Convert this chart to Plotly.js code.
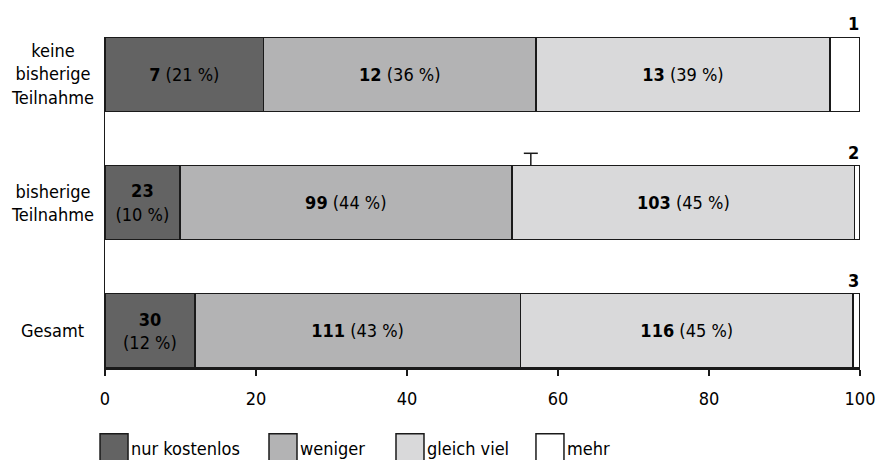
<!DOCTYPE html>
<html>
<head>
<meta charset="utf-8">
<script src="https://cdn.plot.ly/plotly-3.0.1.min.js"></script>
<style>html,body{margin:0;padding:0;background:#fff;}#chart{width:878px;height:460px;}</style>
</head>
<body>
<div id="chart"></div>
<script>
// ---- data ----
const categories = ["keine<br>bisherige<br>Teilnahme", "bisherige<br>Teilnahme", "Gesamt"];
const seriesNames = ["nur kostenlos", "weniger", "gleich viel", "mehr"];
// counts shown in labels
const countNur = [7, 23, 30];
const countWeniger = [12, 99, 111];
const countGleich = [13, 103, 116];
const countMehr = [1, 2, 3];
// percentages shown in labels
const pctNur = [21, 10, 12];
const pctWeniger = [36, 44, 43];
const pctGleich = [39, 45, 45];
// bar lengths (percent of row)
const lenNur = [21.0, 9.9, 11.9];
const lenWeniger = [36.1, 44.0, 43.1];
const lenGleich = [38.9, 45.4, 44.1];
const lenMehr = [4.0, 0.7, 0.9];
const xTicks = [0, 20, 40, 60, 80, 100];

const FONT = "'Liberation Sans Narrow', 'DejaVu Sans Condensed', 'Liberation Sans', sans-serif";
const FS = 18;
const colors = ["#636363", "#b3b3b4", "#d9d9da", "#ffffff"];
const lineCol = "#1a1a1a";
const legendIds = ["legend", "legend2", "legend3", "legend4"];
const legendX = [-0.0185, 0.2053, 0.3735, 0.5589];

function labels(counts, pcts, lens) {
  return counts.map((c, i) => lens[i] < 15 ? `<b>${c}</b><br>(${pcts[i]} %)` : `<b>${c}</b> (${pcts[i]} %)`);
}

const yIdx = categories.map((_, i) => i);

function barTrace(k, lens, text) {
  return {
    type: "bar", orientation: "h", name: seriesNames[k], legend: legendIds[k],
    y: yIdx, x: lens,
    text: text, textposition: text ? "inside" : "none",
    insidetextanchor: "middle", textangle: 0,
    insidetextfont: {family: FONT, size: FS, color: "#000"},
    constraintext: "none",
    marker: {color: colors[k], line: {color: lineCol, width: 1.5}},
    hoverinfo: "none"
  };
}

const traces = [
  barTrace(0, lenNur, labels(countNur, pctNur, lenNur)),
  barTrace(1, lenWeniger, labels(countWeniger, pctWeniger, lenWeniger)),
  barTrace(2, lenGleich, labels(countGleich, pctGleich, lenGleich)),
  barTrace(3, lenMehr, null)
];

const annotations = [];
// category labels (centered lines)
categories.forEach((c, i) => annotations.push({
  xref: "paper", yref: "y", x: -0.070, y: i, text: c,
  showarrow: false, xanchor: "center", yanchor: "middle", align: "center",
  font: {family: FONT, size: FS, color: "#000"}
}));
// "mehr" counts above the right end of each bar
countMehr.forEach((c, i) => annotations.push({
  xref: "x", yref: "y",
  x: lenNur[i] + lenWeniger[i] + lenGleich[i] + lenMehr[i], y: i,
  text: `<b>${c}</b>`, showarrow: false, xanchor: "right", yanchor: "bottom",
  yshift: 38, xshift: 1,
  font: {family: FONT, size: FS, color: "#000"}
}));

const layout = {
  width: 878, height: 460,
  margin: {l: 105, r: 18, t: 37, b: 92, autoexpand: false},
  paper_bgcolor: "#fff", plot_bgcolor: "#fff",
  barmode: "stack", bargap: 0.42,
  showlegend: true,
  font: {family: FONT, size: FS, color: "#000"},
  xaxis: {
    range: [0, 100], tickvals: xTicks, ticktext: xTicks.map(String),
    showgrid: false, zeroline: false, showline: true, linecolor: lineCol, linewidth: 1.5,
    ticks: "outside", ticklen: 6, tickwidth: 1.5, tickcolor: lineCol, ticklabelstandoff: 8,
    tickfont: {family: FONT, size: FS, color: "#000"}, automargin: false, fixedrange: true
  },
  yaxis: {
    range: [2.29, -0.29], showgrid: false, zeroline: false, showline: true,
    linecolor: lineCol, linewidth: 1.5, showticklabels: false, ticks: "",
    automargin: false, fixedrange: true
  },
  annotations: annotations,
  shapes: [
    {type: "line", xref: "x", yref: "y", x0: 56.4, x1: 56.4, ysizemode: "pixel", yanchor: 0.71, y0: 0, y1: 12,
     line: {color: lineCol, width: 1.5}},
    {type: "line", xref: "x", yref: "y", xsizemode: "pixel", xanchor: 56.4, x0: -7, x1: 7,
     ysizemode: "pixel", yanchor: 0.71, y0: 12, y1: 12, line: {color: lineCol, width: 1.5}}
  ]
};
legendIds.forEach((id, k) => {
  layout[id] = {
    orientation: "h", x: legendX[k], xanchor: "left", y: -0.186, yanchor: "top",
    font: {family: FONT, size: FS, color: "#000"},
    bgcolor: "rgba(0,0,0,0)", itemwidth: 30
  };
});

Plotly.newPlot("chart", traces, layout, {displayModeBar: false, staticPlot: true}).then(gd => {
  // enlarge the legend swatches to the tall boxes of the reference
  gd.querySelectorAll(".legendpoints path").forEach(p => {
    p.setAttribute("d", "M17,14H-11V-14H17Z");
    p.style.strokeWidth = "1.5px";
  });
});
</script>
</body>
</html>
